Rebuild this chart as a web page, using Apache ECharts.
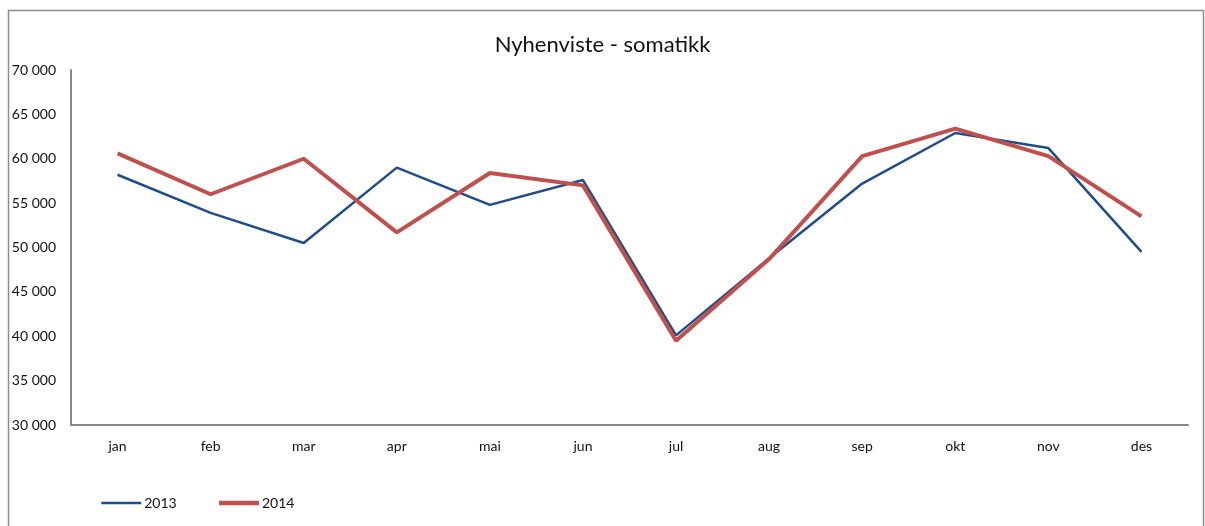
<!DOCTYPE html>
<html>
<head>
<meta charset="utf-8">
<script src="https://cdn.jsdelivr.net/npm/echarts@6/dist/echarts.min.js"></script>
<style>
  html, body { margin: 0; padding: 0; background: #fff; }
  #chart { width: 1205px; height: 526px; }
</style>
</head>
<body>
<div id="chart"></div>
<script>
// data
var months = ['jan', 'feb', 'mar', 'apr', 'mai', 'jun', 'jul', 'aug', 'sep', 'okt', 'nov', 'des'];
var values2013 = [58200, 53900, 50500, 59000, 54800, 57600, 40100, 48800, 57200, 62900, 61200, 49500];
var values2014 = [60600, 56000, 60000, 51700, 58400, 57000, 39500, 48700, 60300, 63400, 60300, 53500];

var font = 'Lato, "Open Sans", sans-serif';

var chart = echarts.init(document.getElementById('chart'));

chart.setOption({
  animation: false,
  backgroundColor: '#fff',
  textStyle: { fontFamily: font },
  // outer frame like the spreadsheet chart area
  graphic: [{
    type: 'rect',
    shape: { x: 8.5, y: 10.5, width: 1195, height: 530 },
    style: { fill: 'none', stroke: '#8c8c8c', lineWidth: 1.5 },
    silent: true
  }],
  title: {
    text: 'Nyhenviste - somatikk',
    left: 'center',
    top: 29,
    textStyle: { fontSize: 22, fontWeight: 'normal', color: '#111', fontFamily: font }
  },
  legend: {
    left: 95,
    top: 491,
    itemWidth: 40,
    itemHeight: 14,
    itemGap: 40,
    itemStyle: { color: 'rgba(0,0,0,0)', borderWidth: 0, opacity: 0 },
    textStyle: { fontSize: 14, color: '#111', fontFamily: font, padding: [0, 0, 0, -2] },
    data: [
      { name: '2013', lineStyle: { width: 2.5 } },
      { name: '2014', lineStyle: { width: 4.5 } }
    ]
  },
  grid: { left: 71, right: 17, top: 70, bottom: 101, containLabel: false },
  xAxis: {
    type: 'category',
    data: months,
    boundaryGap: true,
    axisLine: { lineStyle: { color: '#868686', width: 2 } },
    axisTick: { show: false },
    axisLabel: { color: '#111', fontSize: 14, margin: 14, fontFamily: font }
  },
  yAxis: {
    type: 'value',
    min: 30000,
    max: 70000,
    interval: 5000,
    axisLine: { show: true, lineStyle: { color: '#868686', width: 2 } },
    axisTick: { show: false },
    splitLine: { show: false },
    axisLabel: {
      color: '#111',
      fontSize: 14,
      margin: 15,
      fontFamily: font,
      formatter: function (v) {
        return String(v).replace(/\B(?=(\d{3})+(?!\d))/g, ' ');
      }
    }
  },
  series: [{
    name: '2013',
    type: 'line',
    data: values2013,
    symbol: 'none',
    color: '#1f4d89',
    lineStyle: { width: 2.5, color: '#1f4d89' }
  }, {
    name: '2014',
    type: 'line',
    data: values2014,
    symbol: 'none',
    color: '#c0504d',
    lineStyle: { width: 4, color: '#c0504d' }
  }]
});
</script>
</body>
</html>
